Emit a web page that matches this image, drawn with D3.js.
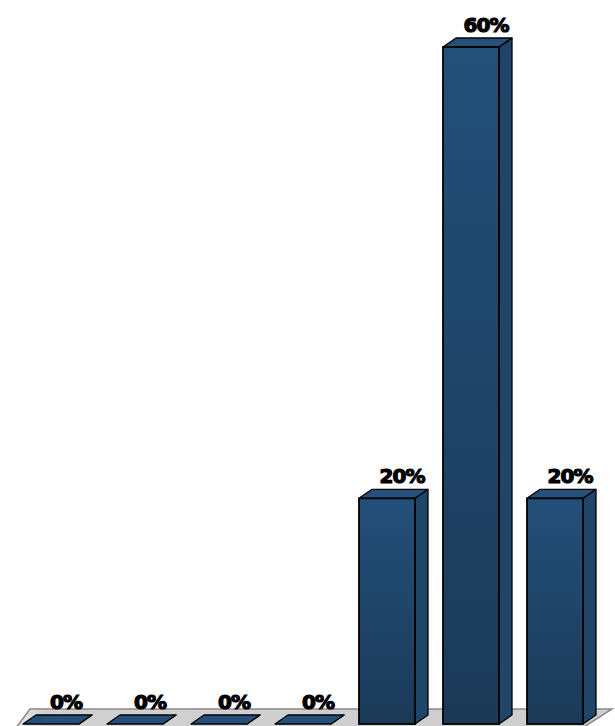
<!DOCTYPE html>
<html>
<head>
<meta charset="utf-8">
<script src="https://cdn.jsdelivr.net/npm/d3@7"></script>
<style>
  html, body { margin: 0; padding: 0; background: #fff; overflow: hidden; }
  .label { font-family: "DejaVu Sans", sans-serif; font-weight: bold; font-size: 20px; letter-spacing: -1px; }
</style>
</head>
<body>
<div id="chart"></div>
<script>
const categories = ['1', '2', '3', '4', '5', '6', '7'];
const values = [0, 0, 0, 0, 20, 60, 20];
const labels = ['0%', '0%', '0%', '0%', '20%', '60%', '20%'];

const w = 615, h = 726;
const depthX = 13, depthY = -9;

const svg = d3.select('#chart')
              .append('svg')
              .attr('width', w)
              .attr('height', h);

const xScale = d3.scaleBand()
                 .domain(categories)
                 .range([23, 583])
                 .paddingInner(1 / 3)
                 .paddingOuter(0)
                 .align(0);

const yScale = d3.scaleLinear()
                 .domain([0, 60])
                 .range([724, 47]);

const bw = xScale.bandwidth();

// gradients for the bar faces
const defs = svg.append('defs');
const front = defs.append('linearGradient')
                  .attr('id', 'front')
                  .attr('x1', 0).attr('y1', 0).attr('x2', 0).attr('y2', 1);
front.append('stop').attr('offset', '0%').attr('stop-color', '#234f79');
front.append('stop').attr('offset', '100%').attr('stop-color', '#1b3a58');

const floorGrad = defs.append('linearGradient')
                      .attr('id', 'floor')
                      .attr('x1', 0).attr('y1', 0).attr('x2', 1).attr('y2', 0);
floorGrad.append('stop').attr('offset', '0%').attr('stop-color', '#ececec');
floorGrad.append('stop').attr('offset', '6%').attr('stop-color', '#d0d0d0');
floorGrad.append('stop').attr('offset', '100%').attr('stop-color', '#cecece');

// floor, under the bars
const y0 = yScale(0);
const fl = xScale.range()[0] + 7, fr = xScale.range()[1] + 29, fTop = y0 - 15;
svg.append('polygon')
   .attr('points', [[fl, fTop], [fr, fTop], [fr - 42, fTop + 27], [fl - 20, fTop + 27]].join(' '))
   .style('fill', 'url(#floor)')
   .style('stroke', '#8a8a8a')
   .style('stroke-width', 1.5);

const data = categories.map((c, i) => ({ c: c, v: values[i], label: labels[i] }));

const bars = svg.selectAll('g.bar')
                .data(data)
                .enter()
                .append('g')
                .attr('class', 'bar');

// side face
bars.append('polygon')
    .attr('points', d => {
      const x1 = xScale(d.c) + bw, yt = yScale(d.v);
      return [[x1, yt], [x1 + depthX, yt + depthY], [x1 + depthX, y0 + depthY], [x1, y0]].join(' ');
    })
    .style('fill', '#1f4669')
    .style('stroke', '#000')
    .style('stroke-width', 1.3)
    .style('stroke-linejoin', 'round');

// top face
bars.append('polygon')
    .attr('points', d => {
      const x0 = xScale(d.c), yt = yScale(d.v);
      return [[x0, yt], [x0 + bw, yt], [x0 + bw + depthX, yt + depthY], [x0 + depthX, yt + depthY]].join(' ');
    })
    .style('fill', '#24507b')
    .style('stroke', '#000')
    .style('stroke-width', 1.3)
    .style('stroke-linejoin', 'round');

// front face
bars.filter(d => d.v > 0)
    .append('rect')
    .attr('x', d => xScale(d.c))
    .attr('y', d => yScale(d.v))
    .attr('width', bw)
    .attr('height', d => y0 - yScale(d.v))
    .style('fill', 'url(#front)')
    .style('stroke', '#000')
    .style('stroke-width', 1.8);

svg.selectAll('text.label')
   .data(data)
   .enter()
   .append('text')
   .attr('class', 'label')
   .attr('text-anchor', 'middle')
   .attr('x', d => xScale(d.c) + bw / 2 + depthX + 2)
   .attr('y', d => yScale(d.v) + depthY - 6)
   .style('fill', '#000')
   .style('stroke', '#000')
   .style('stroke-width', 1.2)
   .text(d => d.label);
</script>
</body>
</html>
